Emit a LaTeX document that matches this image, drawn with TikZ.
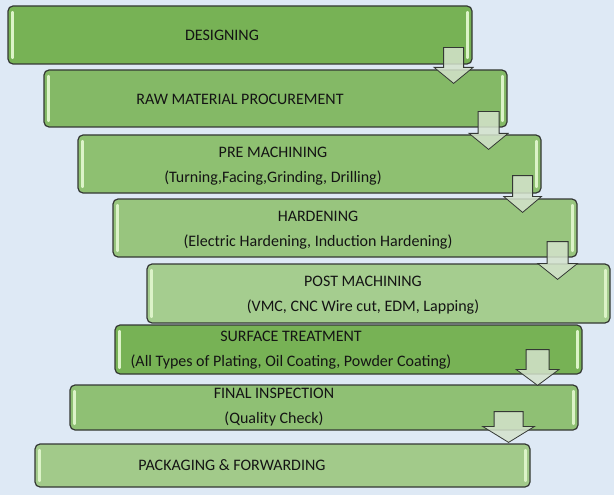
\documentclass[tikz,border=0pt]{standalone}
\usepackage{fontspec}
\setmainfont{Carlito}
\usetikzlibrary{calc}

\definecolor{bgblue}{RGB}{222,233,245}
\definecolor{edgegray}{RGB}{52,56,52}
\definecolor{hlgreen}{RGB}{220,243,200}
\definecolor{stageA}{RGB}{119,178,85}
\definecolor{stageB}{RGB}{132,185,102}
\definecolor{stageC}{RGB}{142,192,113}
\definecolor{stageD}{RGB}{152,197,126}
\definecolor{stageE}{RGB}{165,205,143}
\definecolor{stageF}{RGB}{143,192,116}
\definecolor{stageG}{RGB}{162,202,138}
\definecolor{arrowlight}{RGB}{246,250,243}
\definecolor{arrowside}{RGB}{212,227,204}

\tikzset{
  stage/.style={draw=edgegray, line width=1.2pt, rounded corners=5pt, inner sep=0pt,
    path picture={
      \draw[hlgreen, line width=2.2pt, line cap=round]
        ([xshift=4.5pt,yshift=-6pt]path picture bounding box.north west) --
        ([xshift=4.5pt,yshift=6pt]path picture bounding box.south west)
        ([xshift=-4.5pt,yshift=-6pt]path picture bounding box.north east) --
        ([xshift=-4.5pt,yshift=6pt]path picture bounding box.south east);
    }},
  stagetext/.style={font=\fontsize{16}{25}\selectfont, text=black!92, align=center, inner sep=0pt},
  flowarr/.style={draw=edgegray, line width=0.8pt, line join=miter,
    left color=arrowside, middle color=arrowlight, right color=arrowside, fill opacity=0.85}
}

% block arrow: from, to, shift from right, rise, sink, shaft half width, head half width
\newcommand{\flowarrow}[7]{%
  \coordinate (#1-top) at ($(#1.south east)+(-#3,-#4)$);
  \coordinate (#1-tip) at ($(#1-top |- #2.north)+(0,#5)$);
  \draw[flowarr] ($(#1-top)+(-#6,0)$) -- ($(#1-top)+(#6,0)$)
    -- ($(#1-tip)+(#6,-16)$) -- ($(#1-tip)+(#7,-16)$) -- (#1-tip)
    -- ($(#1-tip)+(-#7,-16)$) -- ($(#1-tip)+(-#6,-16)$) -- cycle;
}

\begin{document}
\begin{tikzpicture}[x=1pt, y=-1pt]
\useasboundingbox[fill=bgblue] (0,0) rectangle (614,495);

% stages
\node[stage, fill=stageA, minimum width=464pt, minimum height=58pt] (designing) at (240,35) {};
\node[stage, fill=stageB, minimum width=463pt, minimum height=57pt] (rawmat) at (275.5,98.5) {};
\node[stage, fill=stageC, minimum width=463pt, minimum height=58pt] (premach) at (309.5,164) {};
\node[stage, fill=stageD, minimum width=464pt, minimum height=58pt] (harden) at (345,228) {};
\node[stage, fill=stageE, minimum width=463pt, minimum height=59pt] (postmach) at (378.5,293.5) {};
\node[stage, fill=stageA, minimum width=467pt, minimum height=49pt] (surface) at (348.5,349.5) {};
\node[stage, fill=stageF, minimum width=508pt, minimum height=45pt] (inspect) at (324,407.5) {};
\node[stage, fill=stageG, minimum width=495pt, minimum height=43pt] (packing) at (282.5,465.5) {};

% texts
\node[stagetext] (designing-t) at (222,35) {DESIGNING};
\node[stagetext] (rawmat-t) at (240,99) {RAW MATERIAL PROCUREMENT};
\node[stagetext] (premach-t) at (273,166) {PRE MACHINING\\(Turning,Facing,Grinding, Drilling)};
\node[stagetext] (harden-t) at (318,230) {HARDENING\\(Electric Hardening, Induction Hardening)};
\node[stagetext] (postmach-t) at (363,295) {POST MACHINING\\(VMC, CNC Wire cut, EDM, Lapping)};
\node[stagetext] (surface-t) at (291,350) {SURFACE TREATMENT\\(All Types of Plating, Oil Coating, Powder Coating)};
\node[stagetext] (inspect-t) at (274,407) {FINAL INSPECTION\\(Quality Check)};
\node[stagetext] (packing-t) at (232,465) {PACKAGING \& FORWARDING};

% arrows
\flowarrow{designing}{rawmat}{19}{17}{14}{10}{19.5}
\flowarrow{rawmat}{premach}{19}{16}{15}{10.5}{19.5}
\flowarrow{premach}{harden}{19}{18}{14}{10}{19}
\flowarrow{harden}{postmach}{20}{16}{16}{10.5}{20}
\flowarrow{surface}{inspect}{45}{25}{1}{11.5}{21.5}
\flowarrow{inspect}{packing}{70}{19}{-1}{14.5}{26}
\end{tikzpicture}
\end{document}
